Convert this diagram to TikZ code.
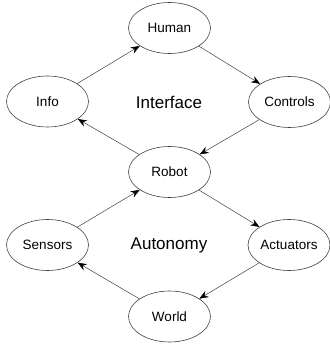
\documentclass[tikz,border=0pt]{standalone}
\usepackage{fontspec}
\setmainfont{Liberation Sans}
\usetikzlibrary{shapes.geometric,arrows.meta}
\begin{document}
\begin{tikzpicture}[x=1pt,y=-1pt,
  ell/.style={ellipse,draw=black!75,line width=0.6pt,minimum width=82pt,minimum height=51pt,inner sep=0pt,font=\fontsize{13.5}{15}\selectfont},
  lab/.style={font=\fontsize{17}{19}\selectfont},
  conn/.style={draw=black!75,line width=0.5pt,-{Stealth[length=9pt,width=7pt,inset=3pt,black]}}]
\useasboundingbox (0,0) rectangle (329,345);
\node[ell] (human) at (169.5,28) {Human};
\node[ell] (info) at (47.5,101.5) {Info};
\node[ell] (controls) at (289.5,102) {Controls};
\node[ell] (robot) at (169.5,172) {Robot};
\node[ell] (sensors) at (47.5,245) {Sensors};
\node[ell] (actuators) at (289,245) {Actuators};
\node[ell] (world) at (169.5,316.5) {World};
\node[lab] (interface) at (169,102) {Interface};
\node[lab] (autonomy) at (169,245) {Autonomy};
\draw[conn] (info) -- (human);
\draw[conn] (human) -- (controls);
\draw[conn] (controls) -- (robot);
\draw[conn] (robot) -- (info);
\draw[conn] (sensors) -- (robot);
\draw[conn] (robot) -- (actuators);
\draw[conn] (actuators) -- (world);
\draw[conn] (world) -- (sensors);
\end{tikzpicture}
\end{document}
